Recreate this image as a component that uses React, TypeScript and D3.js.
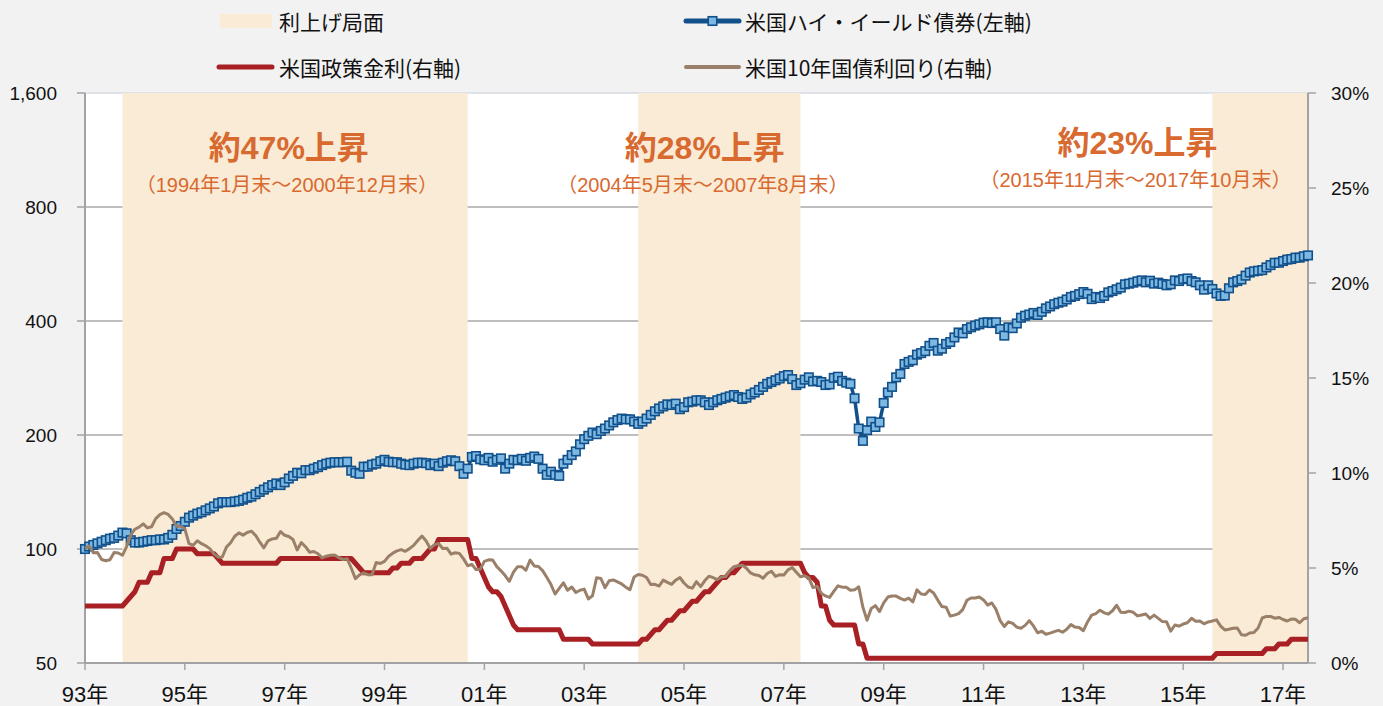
import * as d3 from 'd3'

const W = 1383
const H = 706
const PLOT = { left: 85, right: 1308, top: 93, bottom: 663 }

// monthly month-end data, 1993-04 … 2017-10
const START_YEAR = 1993
const START_MONTH = 4

// 米国ハイ・イールド債券 (index, left axis)
const hyIndex = [
  100, 101.5, 102.5, 103.5, 104.5, 105.5, 106.5, 107, 108.5,            // 1993 Apr-Dec
  110.5, 110, 105.5, 104, 104, 104.5, 105, 105.5, 105.5, 106, 106, 107, // 1994
  109, 113, 115, 118, 121, 122.5, 124, 125, 126.5, 128, 129.5, 132,     // 1995
  133, 133, 133, 133.5, 134, 135, 136.5, 137.5, 139.5, 141.5, 143.5, 145.5, // 1996
  147.5, 149, 147.5, 150, 153.5, 156, 159, 158.5, 161.5, 161.5, 163, 164.5, // 1997
  166.5, 168, 169, 169.5, 169.5, 169.5, 170, 161, 159, 158, 165, 165,   // 1998
  167, 168, 170.5, 172, 170, 169.5, 169.5, 168, 167, 166.5, 168, 169,   // 1999
  169, 168.5, 166.5, 168, 165.5, 169, 170.5, 171.5, 170.5, 165.5, 158, 163, // 2000
  175, 176, 172.5, 171.5, 174, 170, 172, 173.5, 163, 168, 172, 171.5,   // 2001
  173, 171, 174, 175.5, 173, 163, 157, 160, 157, 156, 168, 172,         // 2002
  177, 181, 189, 195, 199, 203, 201, 205, 208, 212, 216, 219,           // 2003
  221, 220, 220, 217, 214, 217, 221, 226, 231, 235, 238, 241,           // 2004
  240, 242, 234, 237, 244, 245, 247, 247, 244, 240, 244, 247,           // 2005
  249, 251, 253, 255, 252, 249, 251, 256, 259, 263, 268, 273,           // 2006
  276, 279, 282, 286, 288, 281, 271, 274, 280, 284, 277, 278,           // 2007
  276, 271, 272, 283, 285, 278, 275, 273, 250, 208, 193, 206,           // 2008
  217, 210, 216, 243, 259, 268, 284, 290, 308, 312, 315, 326,           // 2009
  329, 333, 344, 350, 334, 338, 348, 352, 362, 373, 371, 381,           // 2010
  385, 389, 392, 396, 397, 395, 397, 381, 366, 385, 383, 394,           // 2011
  408, 413, 416, 420, 415, 423, 432, 437, 443, 447, 450, 456,           // 2012
  463, 466, 471, 477, 472, 457, 463, 460, 466, 476, 480, 485,           // 2013
  490, 500, 502, 505, 509, 512, 506, 511, 502, 505, 501, 497,           // 2014
  500, 512, 510, 516, 518, 510, 506, 497, 484, 497, 486, 473,           // 2015
  466, 467, 488, 506, 510, 515, 527, 537, 541, 543, 545, 554,           // 2016
  562, 570, 570, 576, 581, 583, 588, 588, 593, 596,                     // 2017 Jan-Oct
]

// 米国政策金利 (%, right axis)
const policyRate = [
  3, 3, 3, 3, 3, 3, 3, 3, 3,
  3, 3.25, 3.5, 3.75, 4.25, 4.25, 4.25, 4.75, 4.75, 4.75, 5.5, 5.5,
  5.5, 6, 6, 6, 6, 6, 5.75, 5.75, 5.75, 5.75, 5.75, 5.5,
  5.25, 5.25, 5.25, 5.25, 5.25, 5.25, 5.25, 5.25, 5.25, 5.25, 5.25, 5.25,
  5.25, 5.25, 5.5, 5.5, 5.5, 5.5, 5.5, 5.5, 5.5, 5.5, 5.5, 5.5,
  5.5, 5.5, 5.5, 5.5, 5.5, 5.5, 5.5, 5.5, 5.25, 5, 4.75, 4.75,
  4.75, 4.75, 4.75, 4.75, 4.75, 5, 5, 5.25, 5.25, 5.25, 5.5, 5.5,
  5.5, 5.75, 6, 6, 6.5, 6.5, 6.5, 6.5, 6.5, 6.5, 6.5, 6.5,
  5.5, 5.5, 5, 4.5, 4, 3.75, 3.75, 3.5, 3, 2.5, 2, 1.75,
  1.75, 1.75, 1.75, 1.75, 1.75, 1.75, 1.75, 1.75, 1.75, 1.75, 1.25, 1.25,
  1.25, 1.25, 1.25, 1.25, 1.25, 1, 1, 1, 1, 1, 1, 1,
  1, 1, 1, 1, 1, 1.25, 1.25, 1.5, 1.75, 1.75, 2, 2.25,
  2.25, 2.5, 2.75, 2.75, 3, 3.25, 3.25, 3.5, 3.75, 3.75, 4, 4.25,
  4.5, 4.5, 4.75, 4.75, 5, 5.25, 5.25, 5.25, 5.25, 5.25, 5.25, 5.25,
  5.25, 5.25, 5.25, 5.25, 5.25, 5.25, 5.25, 5.25, 4.75, 4.5, 4.5, 4.25,
  3, 3, 2.25, 2, 2, 2, 2, 2, 2, 1, 1, 0.25,
  0.25, 0.25, 0.25, 0.25, 0.25, 0.25, 0.25, 0.25, 0.25, 0.25, 0.25, 0.25,
  0.25, 0.25, 0.25, 0.25, 0.25, 0.25, 0.25, 0.25, 0.25, 0.25, 0.25, 0.25,
  0.25, 0.25, 0.25, 0.25, 0.25, 0.25, 0.25, 0.25, 0.25, 0.25, 0.25, 0.25,
  0.25, 0.25, 0.25, 0.25, 0.25, 0.25, 0.25, 0.25, 0.25, 0.25, 0.25, 0.25,
  0.25, 0.25, 0.25, 0.25, 0.25, 0.25, 0.25, 0.25, 0.25, 0.25, 0.25, 0.25,
  0.25, 0.25, 0.25, 0.25, 0.25, 0.25, 0.25, 0.25, 0.25, 0.25, 0.25, 0.25,
  0.25, 0.25, 0.25, 0.25, 0.25, 0.25, 0.25, 0.25, 0.25, 0.25, 0.25, 0.5,
  0.5, 0.5, 0.5, 0.5, 0.5, 0.5, 0.5, 0.5, 0.5, 0.5, 0.5, 0.75,
  0.75, 0.75, 1, 1, 1, 1.25, 1.25, 1.25, 1.25, 1.25,
]

// 米国10年国債利回り (%, right axis)
const treasury10y = [
  6.03, 6.16, 5.80, 5.81, 5.45, 5.38, 5.43, 5.82, 5.79,
  5.67, 6.13, 6.74, 7.04, 7.15, 7.32, 7.11, 7.17, 7.60, 7.81, 7.91, 7.82,
  7.58, 7.20, 7.20, 7.06, 6.28, 6.20, 6.43, 6.28, 6.17, 6.02, 5.74, 5.57,
  5.58, 6.10, 6.33, 6.67, 6.85, 6.73, 6.87, 6.94, 6.72, 6.37, 6.06, 6.43,
  6.53, 6.56, 6.92, 6.72, 6.66, 6.50, 5.95, 6.34, 6.12, 5.83, 5.87, 5.75,
  5.53, 5.62, 5.67, 5.68, 5.55, 5.45, 5.49, 5.00, 4.44, 4.64, 4.74, 4.65,
  4.65, 5.29, 5.24, 5.35, 5.62, 5.78, 5.90, 5.97, 5.88, 6.02, 6.19, 6.45,
  6.68, 6.42, 6.03, 6.23, 6.29, 6.03, 6.04, 5.73, 5.80, 5.77, 5.48, 5.12,
  5.19, 4.92, 4.93, 5.35, 5.43, 5.42, 5.07, 4.85, 4.60, 4.30, 4.78, 5.07,
  5.07, 4.88, 5.42, 5.11, 5.08, 4.86, 4.51, 4.14, 3.63, 3.93, 4.22, 3.83,
  4.00, 3.71, 3.83, 3.89, 3.37, 3.54, 4.49, 4.45, 3.96, 4.33, 4.37, 4.27,
  4.16, 3.99, 3.86, 4.53, 4.66, 4.62, 4.50, 4.13, 4.14, 4.05, 4.36, 4.24,
  4.14, 4.36, 4.50, 4.21, 4.00, 3.94, 4.28, 4.02, 4.34, 4.57, 4.49, 4.39,
  4.53, 4.55, 4.86, 5.07, 5.12, 5.15, 4.99, 4.74, 4.64, 4.61, 4.46, 4.71,
  4.83, 4.56, 4.65, 4.63, 4.90, 5.03, 4.78, 4.54, 4.59, 4.48, 3.97, 4.04,
  3.67, 3.53, 3.45, 3.77, 4.06, 3.99, 3.99, 3.83, 3.85, 4.01, 2.93, 2.25,
  2.87, 3.02, 2.71, 3.16, 3.47, 3.53, 3.52, 3.40, 3.31, 3.41, 3.21, 3.85,
  3.63, 3.61, 3.84, 3.69, 3.31, 2.97, 2.94, 2.47, 2.52, 2.60, 2.81, 3.30,
  3.42, 3.42, 3.47, 3.32, 3.05, 3.16, 2.82, 2.23, 1.92, 2.17, 2.08, 1.89,
  1.83, 1.98, 2.23, 1.95, 1.59, 1.67, 1.51, 1.57, 1.65, 1.72, 1.62, 1.78,
  2.02, 1.89, 1.87, 1.70, 2.16, 2.52, 2.60, 2.78, 2.64, 2.57, 2.75, 3.04,
  2.67, 2.66, 2.73, 2.67, 2.48, 2.53, 2.58, 2.35, 2.52, 2.35, 2.18, 2.17,
  1.68, 2.00, 1.94, 2.05, 2.12, 2.35, 2.20, 2.21, 2.06, 2.16, 2.21, 2.27,
  1.94, 1.74, 1.78, 1.83, 1.84, 1.49, 1.46, 1.58, 1.60, 1.84, 2.37, 2.45,
  2.45, 2.36, 2.40, 2.29, 2.21, 2.31, 2.30, 2.12, 2.33, 2.38,
]

const leftTicks = [50, 100, 200, 400, 800, 1600]
const leftTickLabels = ['50', '100', '200', '400', '800', '1,600']
const rightTicks = [0, 5, 10, 15, 20, 25, 30]
const rightTickLabels = ['0%', '5%', '10%', '15%', '20%', '25%', '30%']
const xTickLabels = ['93年', '95年', '97年', '99年', '01年', '03年', '05年', '07年', '09年', '11年', '13年', '15年', '17年']

// 利上げ局面
const hikeFrom = ['1994-01', '2004-05', '2015-11']
const hikeTo = ['2000-12', '2007-08', '2017-10']

const annTitles = ['約47%上昇', '約28%上昇', '約23%上昇']
const annSubs = ['（1994年1月末～2000年12月末）', '（2004年5月末～2007年8月末）', '（2015年11月末～2017年10月末）']
const annAt = ['1997-05', '2005-09', '2014-05']

const FONT = "'Liberation Sans', 'Noto Sans CJK JP', sans-serif"
const JP = "'Noto Sans CJK JP', sans-serif"
const ORANGE = '#d8692f'
const BLUE = '#11508a'
const BLUE_FILL = '#7db8e2'
const RED = '#a81f24'
const BROWN = '#9b8069'
const SHADE = '#f9ebd5'
const AXIS = '#a3a3a6'
const GRID = '#a8a8a8'

const monthIdx = (s: string) => {
  const [y, m] = s.split('-').map(Number)
  return (y - START_YEAR) * 12 + (m - START_MONTH)
}

export default function App() {
  const n = hyIndex.length
  const x = d3.scaleLinear().domain([0, n - 1]).range([PLOT.left, PLOT.right])
  const yL = d3.scaleLog().base(2).domain([50, 1600]).range([PLOT.bottom, PLOT.top])
  const yR = d3.scaleLinear().domain([0, 30]).range([PLOT.bottom, PLOT.top])

  const hyLine = d3.line<number>().x((_, i) => x(i)).y(d => yL(d))(hyIndex) || ''
  const rateLine = d3.line<number>().x((_, i) => x(i)).y(d => yR(d))(policyRate) || ''
  const tyLine = d3.line<number>().x((_, i) => x(i)).y(d => yR(d))(treasury10y) || ''

  const xTicks = xTickLabels.map((_, i) => i * 24)
  const MS = 8.5

  return (
    <svg width={W} height={H} style={{ position: 'absolute', left: 0, top: 0, display: 'block' }}>
      <rect x={0} y={0} width={W} height={H} fill="#f2f2f2" />
      <rect x={PLOT.left} y={PLOT.top} width={PLOT.right - PLOT.left} height={PLOT.bottom - PLOT.top} fill="#fff" />

      {/* grid */}
      {leftTicks.slice(1).map(v => (
        <line key={v} x1={PLOT.left} x2={PLOT.right} y1={yL(v)} y2={yL(v)}
          stroke={v === 1600 ? '#d6dae0' : GRID} strokeWidth={1.5} />
      ))}

      {/* 利上げ局面 */}
      {hikeFrom.map((f, i) => (
        <rect key={f} x={x(monthIdx(f))} y={PLOT.top}
          width={x(monthIdx(hikeTo[i])) - x(monthIdx(f))} height={PLOT.bottom - PLOT.top} fill={SHADE} />
      ))}

      {/* axes */}
      <line x1={PLOT.left} x2={PLOT.left} y1={PLOT.top} y2={PLOT.bottom} stroke={AXIS} strokeWidth={2} />
      <line x1={PLOT.right} x2={PLOT.right} y1={PLOT.top} y2={PLOT.bottom} stroke={AXIS} strokeWidth={2} />
      <line x1={PLOT.left} x2={PLOT.right} y1={PLOT.bottom} y2={PLOT.bottom} stroke={AXIS} strokeWidth={2} />
      {leftTicks.map((v, i) => (
        <g key={v}>
          <line x1={PLOT.left - 8} x2={PLOT.left} y1={yL(v)} y2={yL(v)} stroke={AXIS} strokeWidth={1.5} />
          <text x={57} y={yL(v)} textAnchor="end" dominantBaseline="central" fontSize={19} fontFamily={FONT} fill="#111">
            {leftTickLabels[i]}
          </text>
        </g>
      ))}
      {rightTicks.map((v, i) => (
        <g key={v}>
          <line x1={PLOT.right} x2={PLOT.right + 8} y1={yR(v)} y2={yR(v)} stroke={AXIS} strokeWidth={1.5} />
          <text x={1331} y={yR(v)} dominantBaseline="central" fontSize={19} fontFamily={FONT} fill="#111">
            {rightTickLabels[i]}
          </text>
        </g>
      ))}
      {xTicks.map((t, i) => (
        <g key={t}>
          <line x1={x(t)} x2={x(t)} y1={PLOT.bottom} y2={PLOT.bottom + 7} stroke={AXIS} strokeWidth={1.5} />
          <text x={x(t)} y={702} textAnchor="middle" fontSize={22} fontFamily={FONT} fill="#111">
            {xTickLabels[i]}
          </text>
        </g>
      ))}

      {/* series */}
      <path d={hyLine} fill="none" stroke={BLUE} strokeWidth={3.5} strokeLinejoin="round" />
      {hyIndex.map((d, i) => (
        <rect key={i} x={x(i) - MS / 2} y={yL(d) - MS / 2} width={MS} height={MS}
          fill={BLUE_FILL} stroke={BLUE} strokeWidth={1.6} />
      ))}
      <path d={rateLine} fill="none" stroke={RED} strokeWidth={5} strokeLinejoin="round" />
      <path d={tyLine} fill="none" stroke={BROWN} strokeWidth={3} strokeLinejoin="round" />

      {/* annotations */}
      {annAt.map((a, i) => {
        const cx = x(monthIdx(a))
        const dy = i === 2 ? -5 : 0
        return (
          <g key={a}>
            <text x={cx} y={148 + dy} textAnchor="middle" dominantBaseline="central"
              fontSize={32} fontWeight="bold" fontFamily={FONT} fill={ORANGE}>{annTitles[i]}</text>
            <text x={cx - 2} y={185 + dy} textAnchor="middle" dominantBaseline="central"
              fontSize={20} fontFamily={FONT} fill={ORANGE}>{annSubs[i]}</text>
          </g>
        )
      })}

      {/* legend */}
      <rect x={220} y={14} width={52} height={14} fill={SHADE} />
      <text x={279} y={21} dominantBaseline="central" fontSize={21} fontFamily={JP} fill="#111">利上げ局面</text>
      <line x1={219} x2={272} y1={67} y2={67} stroke={RED} strokeWidth={5} strokeLinecap="round" />
      <text x={279} y={67} dominantBaseline="central" fontSize={21} fontFamily={JP} fill="#111">米国政策金利(右軸)</text>
      <line x1={686} x2={739} y1={21} y2={21} stroke={BLUE} strokeWidth={5} strokeLinecap="round" />
      <rect x={712.5 - MS / 2} y={21 - MS / 2} width={MS} height={MS} fill={BLUE_FILL} stroke={BLUE} strokeWidth={1.6} />
      <text x={745} y={21} dominantBaseline="central" fontSize={21} fontFamily={JP} fill="#111">米国ハイ・イールド債券(左軸)</text>
      <line x1={686} x2={739} y1={67} y2={67} stroke={BROWN} strokeWidth={4} strokeLinecap="round" />
      <text x={745} y={67} dominantBaseline="central" fontSize={21} fontFamily={JP} fill="#111">米国10年国債利回り(右軸)</text>
    </svg>
  )
}
